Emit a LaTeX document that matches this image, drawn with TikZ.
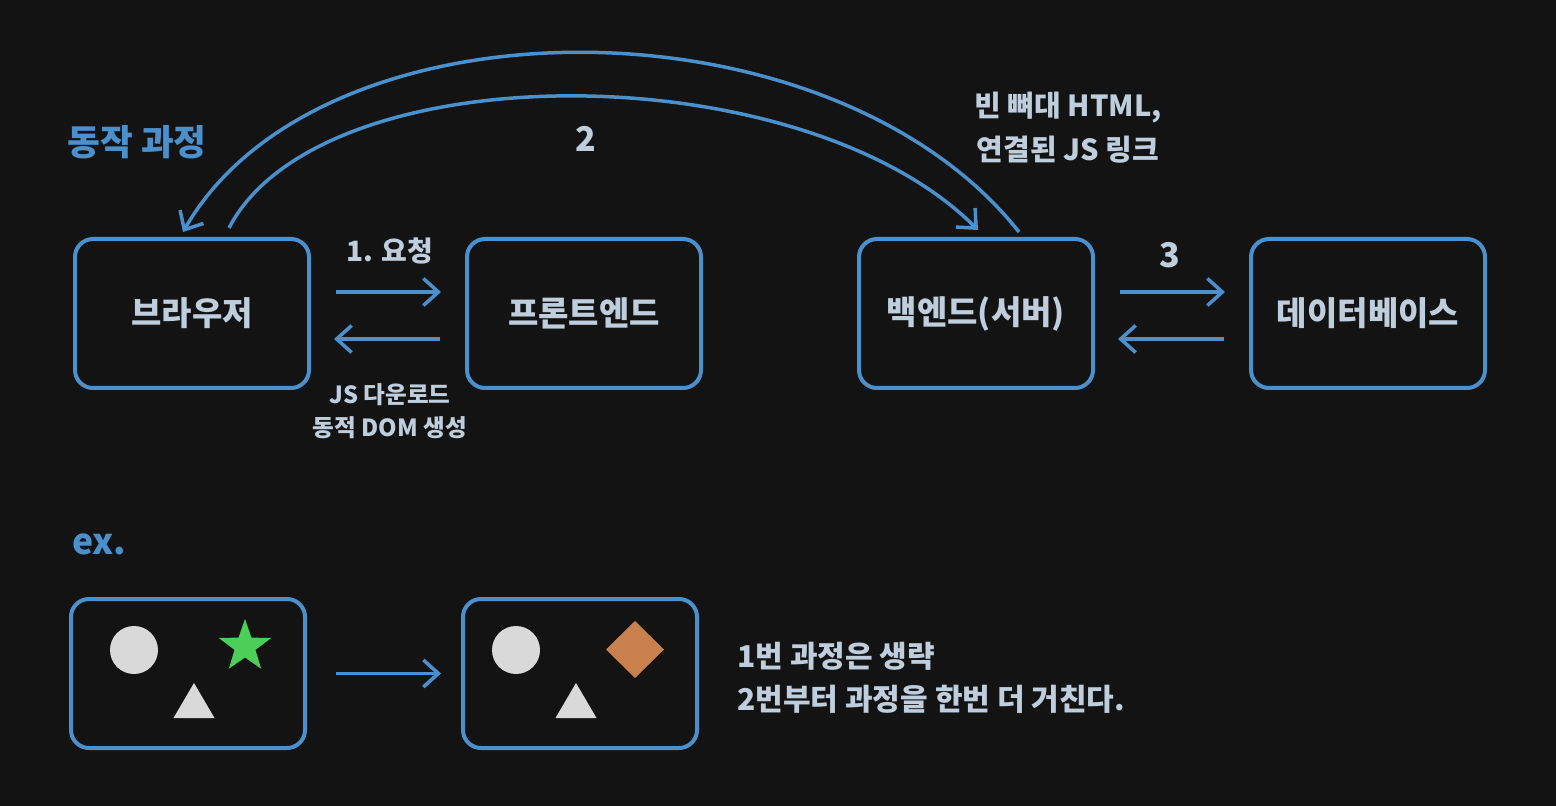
\documentclass[tikz,border=0pt]{standalone}
\usepackage{fontspec}
\setmainfont{Noto Sans CJK KR}
\usetikzlibrary{arrows.meta,positioning,shapes.geometric}
\definecolor{FlowBg}{HTML}{131313}
\definecolor{FlowBlue}{HTML}{4A90CD}
\definecolor{FlowInk}{HTML}{BFCEDD}
\definecolor{FlowShape}{HTML}{D9D9D9}
\definecolor{FlowGreen}{HTML}{4CCF58}
\definecolor{FlowOrange}{HTML}{C8804C}
\tikzset{
  flow/.style={-{Straight Barb[length=7.5pt,width=13.5pt]}, line width=1.75pt, draw=FlowBlue},
  box/.style={draw=FlowBlue, line width=2pt, rounded corners=9pt, minimum width=117pt,
              minimum height=74.5pt, inner sep=0pt, text=FlowInk,
              font=\bfseries\fontsize{16.5}{19}\selectfont},
  tag/.style={text=FlowInk, align=center, inner sep=0pt, font=\bfseries\fontsize{14.5}{21.5}\selectfont},
  small/.style={tag, font=\bfseries\fontsize{11.8}{16.5}\selectfont},
  big/.style={tag, font=\bfseries\fontsize{17}{20}\selectfont},
  heading/.style={text=FlowBlue, anchor=west, inner sep=0pt, font=\bfseries\fontsize{17.8}{20}\selectfont},
}

\begin{document}
\begin{tikzpicture}[x=0.5pt, y=-0.5pt]
  \useasboundingbox (0,0) rectangle (1556,806);
  \fill[FlowBg] (0,0) rectangle (1556,806);
  % top row
  \node[heading] (title) at (67,142) {동작 과정};
  \node[box] (browser) at (192,313.5) {브라우저};
  \node[box, right=77pt of browser] (frontend) {프론트엔드};
  \node[box, right=77pt of frontend] (backend) {백엔드(서버)};
  \node[box, right=77pt of backend] (db) {데이터베이스};

  \draw[flow, shorten <=12.5pt, shorten >=12pt] ([yshift=10.75pt]browser.east) -- ([yshift=10.75pt]frontend.west);
  \draw[flow, shorten <=12.5pt, shorten >=11.5pt] ([yshift=-12.75pt]frontend.west) -- ([yshift=-12.75pt]browser.east);
  \node[tag, font=\bfseries\fontsize{14}{20}\selectfont] (req) at (390,251) {1. 요청};
  \node[small] (down) at (390,411) {JS 다운로드\\동적 DOM 생성};

  \draw[flow, shorten <=12.5pt, shorten >=12pt] ([yshift=10.75pt]backend.east) -- ([yshift=10.75pt]db.west);
  \draw[flow, shorten <=12.5pt, shorten >=11.5pt] ([yshift=-12.75pt]db.west) -- ([yshift=-12.75pt]backend.east);
  \node[big] (three) at (1170,255) {3};

  % step 2 arcs
  \draw[flow] ([xshift=21.5pt,yshift=2.5pt]backend.north) .. controls +(-189,-239) and +(137,-239) .. ([xshift=-4.5pt,yshift=2.5pt]browser.north);
  \draw[flow] ([xshift=18.5pt,yshift=4.5pt]browser.north) .. controls +(91,-176) and +(-178,-178) .. ([xshift=1pt,yshift=3.5pt]backend.north);
  \node[big] (two) at (586,139) {2};
  \node[tag, font=\bfseries\fontsize{14.5}{22}\selectfont] (html) at (1068,128) {빈 뼈대 HTML,\\연결된 JS 링크};

  % example
  \node[heading] (ex) at (72,544) {ex.};
  \node[box] (before) at (188,673.5) {};
  \node[box, right=77pt of before] (after) {};
  \draw[flow, shorten <=14.5pt, shorten >=10pt] (before.east) -- (after.west);

  \fill[FlowShape] (134,650) circle[radius=12pt];
  \node[star, star points=5, star point ratio=2.5, fill=FlowGreen, inner sep=0pt, minimum size=27.5pt] (oldpart) at (245,646.5) {};
  \fill[FlowShape] (194,683) -- (214.5,718) -- (173.5,718) -- cycle;

  \fill[FlowShape] (516,650) circle[radius=12pt];
  \fill[FlowOrange] (635,621) -- (664,649.5) -- (635,678) -- (606,649.5) -- cycle;
  \fill[FlowShape] (576,683) -- (596.5,718) -- (555.5,718) -- cycle;

  \node[tag, anchor=west, align=left, font=\bfseries\fontsize{15}{21.5}\selectfont] (note) at (737,677.5) {1번 과정은 생략\\2번부터 과정을 한번 더 거친다.};
\end{tikzpicture}
\end{document}
